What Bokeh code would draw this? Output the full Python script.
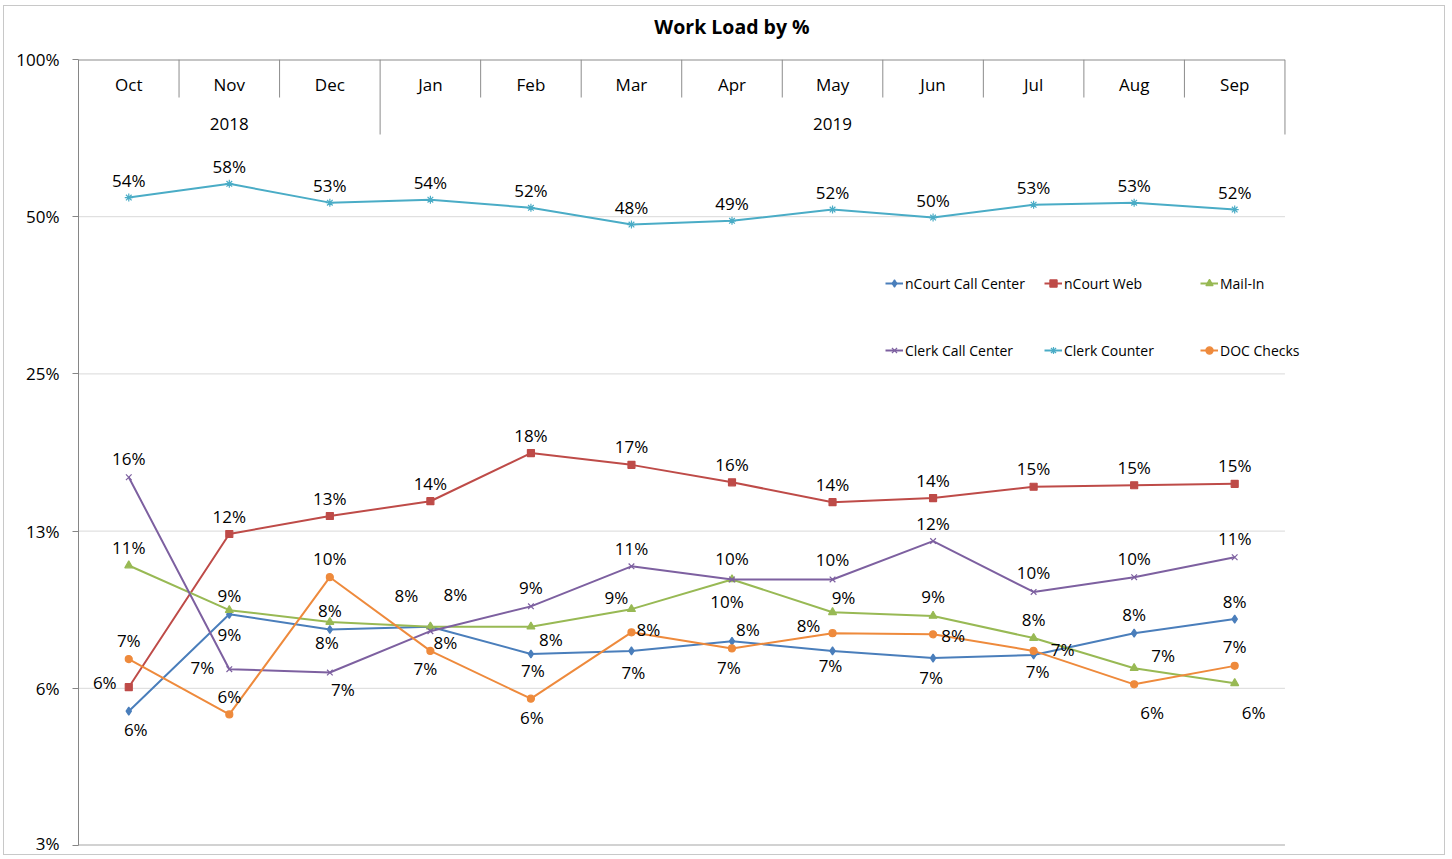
import math
from bokeh.plotting import figure
from bokeh.models import (FactorRange, Range1d, FixedTicker, ColumnDataSource, Legend, LegendItem,
                          InlineStyleSheet, LinearAxis)
from bokeh.core.properties import value
from bokeh.embed import file_html
from bokeh.resources import INLINE

# ---------------- data ----------------
months = ["Oct", "Nov", "Dec", "Jan", "Feb", "Mar", "Apr", "May", "Jun", "Jul", "Aug", "Sep"]
year_labels = ["2018", "2019"]
year_first = ["Oct", "Jan"]
year_last = ["Dec", "Sep"]

ncourt_call_center = [0.0565, 0.0866, 0.0810, 0.0820, 0.0727, 0.0737, 0.0769, 0.0737, 0.0714, 0.0724, 0.0797, 0.0848]
ncourt_web = [0.0628, 0.1234, 0.1336, 0.1426, 0.1763, 0.1674, 0.1550, 0.1420, 0.1446, 0.1520, 0.1530, 0.1540]
mail_in = [0.1074, 0.0882, 0.0837, 0.0820, 0.0820, 0.0886, 0.1010, 0.0874, 0.0860, 0.0780, 0.0683, 0.0639]
clerk_call_center = [0.1585, 0.0680, 0.0670, 0.0804, 0.0897, 0.1070, 0.1010, 0.1010, 0.1196, 0.0956, 0.1020, 0.1114]
clerk_counter = [0.544, 0.578, 0.532, 0.539, 0.520, 0.483, 0.491, 0.516, 0.498, 0.527, 0.532, 0.516]
doc_checks = [0.0711, 0.0557, 0.1020, 0.0737, 0.0597, 0.0800, 0.0745, 0.0797, 0.0793, 0.0737, 0.0636, 0.0690]

y_ticks = [0.03125, 0.0625, 0.125, 0.25, 0.5, 1.0]
y_tick_labels = ["3%", "6%", "13%", "25%", "50%", "100%"]
title_text = "Work Load by %"

# ---------------- styles / label placement (screen px) ----------------
FONT = "Open Sans"
off_ncc = [(7, 18), (0, 20), (-3, 13), (15, 16), (2, 16), (2, 22), (16, -12), (-2, 15), (-2, 19), (4, 17), (0, -19), (0, -18)]
off_web = [(-24, -5)] + [(0, -18)] * 11
off_mail = [(0, -18), (0, -15), (0, -12), (-24, -31), (20, 13), (-15, -12), (-5, 22), (11, -15), (0, -19), (0, -19), (29, -13), (19, 29)]
off_ccc = [(0, -19), (-27, -2), (13, 17), (25, -37), (0, -19), (0, -18), (0, -21), (0, -20), (0, -18), (0, -19), (0, -19), (0, -19)]
off_cc = [(0, -17)] * 12
off_doc = [(0, -19), (0, -18), (0, -19), (-5, 18), (1, 19), (17, -3), (-3, 19), (-24, -8), (20, 1), (29, -1), (18, 28), (0, -19)]

series = [
    ("nCourt Call Center", ncourt_call_center, "#4A7EBB", "diamond", 8, off_ncc),
    ("nCourt Web", ncourt_web, "#BE4B48", "square", 7, off_web),
    ("Mail-In", mail_in, "#98B954", "triangle", 8, off_mail),
    ("Clerk Call Center", clerk_call_center, "#7D60A0", "x", 8, off_ccc),
    ("Clerk Counter", clerk_counter, "#4AACC6", "asterisk", 8, off_cc),
    ("DOC Checks", doc_checks, "#EE8A3C", "circle", 7, off_doc),
]

# page geometry (px): canvas content starts at (4, 6) because of margin + 1px border
OX, OY = 4, 6
W, H = 1442, 850
PAGE_L, PAGE_T, PAGE_B, PAGE_SEP_R = 78, 59, 845, 1284
PAD = " "  # empty slot right of Sep, leaves room for the legend text (nothing drawn there)
CAT_W = (PAGE_SEP_R - PAGE_L) / len(months)
PAGE_R = PAGE_L + CAT_W * (len(months) + 1)
px_per_doubling = (PAGE_B - PAGE_T) / math.log2(y_ticks[-1] / y_ticks[0])

border_css = InlineStyleSheet(css=":host { margin: 5px 0 0 3px; border: 1px solid #c8c8c8; }")

p = figure(width=W, height=H, output_backend="svg", toolbar_location=None, title=None,
           x_range=FactorRange(*(months + [PAD]), range_padding=0),
           y_range=Range1d(y_ticks[0], y_ticks[-1]), y_axis_type="log",
           x_axis_location=None,
           min_border_left=PAGE_L - OX, min_border_right=int(OX + W - PAGE_R),
           min_border_top=PAGE_T - OY, min_border_bottom=OY + H - PAGE_B,
           stylesheets=[border_css])
p.outline_line_color = None
p.background_fill_color = "white"
p.border_fill_color = "white"

# title, drawn as the label of an otherwise empty axis above the plot
tax = LinearAxis(ticker=FixedTicker(ticks=[], minor_ticks=[]),
                 axis_label=title_text, axis_label_standoff=20,
                 axis_label_text_font=FONT, axis_label_text_font_size="19.5px",
                 axis_label_text_font_style="bold", axis_label_text_color="#000000",
                 axis_line_color=None, major_tick_line_color=None, minor_tick_line_color=None,
                 major_tick_out=0, major_tick_in=0, minor_tick_out=0, minor_tick_in=0,
                 major_label_standoff=0)
p.add_layout(tax, "above")

# y axis
yax = p.yaxis[0]
yax.ticker = FixedTicker(ticks=y_ticks)
yax.major_label_overrides = {t: l for t, l in zip(y_ticks, y_tick_labels)}
yax.major_label_text_font = FONT
yax.major_label_text_font_size = "17px"
yax.major_label_text_color = "#000000"
yax.major_label_standoff = 13
yax.axis_line_color = "#868686"
yax.major_tick_line_color = "#868686"
yax.major_tick_out = 6
yax.major_tick_in = 0
yax.minor_tick_line_color = None

p.xgrid.visible = False
p.ygrid.visible = False

# horizontal grid lines, limited to the category span (Oct .. Sep)
x_left = (months[0], -0.5)
x_right = (months[-1], 0.5)
inner = y_ticks[1:-1]
p.segment(x0=[x_left] * len(inner), x1=[x_right] * len(inner), y0=inner, y1=inner,
          line_color="#d9d9d9", line_width=1)
p.segment(x0=[x_left], x1=[x_right], y0=[y_ticks[-1]], y1=[y_ticks[-1]],
          line_color="#8c8c8c", line_width=2)
p.segment(x0=[x_left], x1=[x_right], y0=[y_ticks[0]], y1=[y_ticks[0]],
          line_color="#a6a6a6", line_width=2)

# header (month / year category band inside the plot top)
month_bottom = y_ticks[-1] * 2 ** (-38 / px_per_doubling)
year_bottom = y_ticks[-1] * 2 ** (-75 / px_per_doubling)
sep_x, sep_y1 = [], []
for m in months:
    sep_x.append((m, 0.5))
    sep_y1.append(year_bottom if m in year_last else month_bottom)
p.segment(x0=sep_x, x1=sep_x, y0=[y_ticks[-1]] * len(sep_x), y1=sep_y1,
          line_color="#8c8c8c", line_width=1)
p.text(x=months, y=[y_ticks[-1]] * len(months), text=months, y_offset=25,
       text_align="center", text_baseline="middle", text_font=value(FONT),
       text_font_size="17px", text_color="#000000")
yr_x = []
for f, l in zip(year_first, year_last):
    c = (months.index(f) + months.index(l)) / 2
    yr_x.append((months[int(c)], c - int(c)))
p.text(x=yr_x, y=[y_ticks[-1]] * len(year_labels), text=year_labels, y_offset=64,
       text_align="center", text_baseline="middle", text_font=value(FONT),
       text_font_size="17px", text_color="#000000")

# series
legend_items = {}
for name, vals, color, marker, size, offs in series:
    src = ColumnDataSource(dict(
        x=months, y=vals,
        lbl=[f"{int(v * 100 + 0.5)}%" for v in vals],
        dx=[o[0] for o in offs], dy=[o[1] for o in offs]))
    ln = p.line("x", "y", source=src, line_color=color, line_width=2)
    sc = p.scatter("x", "y", source=src, marker=marker, size=size,
                   fill_color=color, line_color=color, line_width=1.2)
    p.text("x", "y", text="lbl", source=src, x_offset="dx", y_offset="dy",
           text_align="center", text_baseline="middle", text_font=value(FONT),
           text_font_size="17px", text_color="#000000")
    legend_items[name] = LegendItem(label=name, renderers=[ln, sc])

legend_cols = [
    (["nCourt Call Center", "Clerk Call Center"], 885),
    (["nCourt Web", "Clerk Counter"], 1044),
    (["Mail-In", "DOC Checks"], 1200),
]
for names, lx in legend_cols:
    lg = Legend(items=[legend_items[n] for n in names], location=(lx - PAGE_L, PAGE_B - 360),
                orientation="vertical", padding=0, margin=0, spacing=47,
                glyph_width=18, glyph_height=20, label_height=20, label_standoff=2,
                label_text_font=FONT, label_text_font_size="14px", label_text_color="#000000",
                border_line_alpha=0, background_fill_alpha=0)
    p.add_layout(lg)

open("out.html", "w").write(file_html(p, INLINE))
